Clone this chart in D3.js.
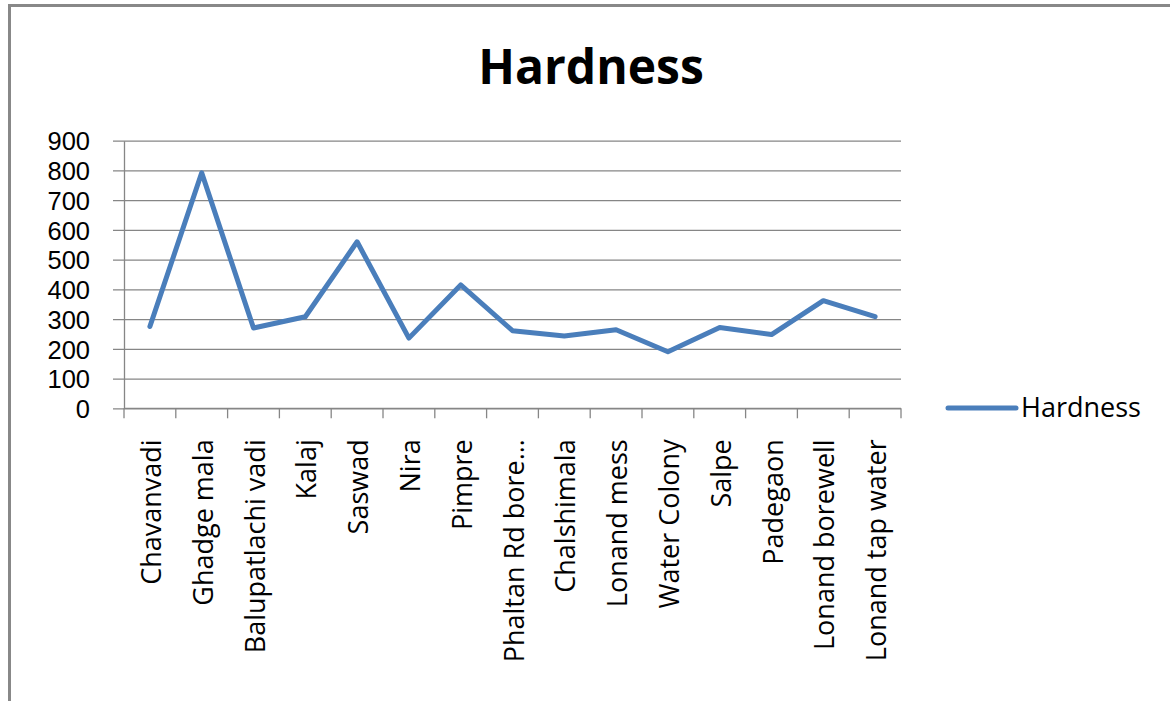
<!DOCTYPE html>
<html>
<head>
<meta charset="utf-8">
<script src="https://cdn.jsdelivr.net/npm/d3@7"></script>
<style>
  html, body { margin: 0; padding: 0; background: #fff; }
  svg { display: block; }
  text { font-family: "Open Sans", "Liberation Sans", sans-serif; fill: #000; }
</style>
</head>
<body>
<script>
// Sampling sites and total hardness (mg/L)
const sites = [
  "Chavanvadi", "Ghadge mala", "Balupatlachi vadi", "Kalaj", "Saswad",
  "Nira", "Pimpre", "Phaltan Rd bore…", "Chalshimala", "Lonand mess",
  "Water Colony", "Salpe", "Padegaon", "Lonand borewell", "Lonand tap water"
];
const hardness = [275, 792, 270, 308, 560, 236, 415, 261, 243, 264, 190, 272, 248, 362, 308];
const yTicks = [0, 100, 200, 300, 400, 500, 600, 700, 800, 900];
const seriesName = "Hardness";
const chartTitle = "Hardness";

const W = 1170, H = 701;
const plot = { left: 124, right: 901, top: 140.7, bottom: 408.3 };
const gridColor = "#868686";
const lineColor = "#4a7ebb";

const svg = d3.select("body").append("svg").attr("width", W).attr("height", H);

// chart frame
svg.append("rect")
  .attr("x", 9.5).attr("y", 5.5).attr("width", W + 20).attr("height", H + 20)
  .attr("fill", "none").attr("stroke", "#888").attr("stroke-width", 3);

const x = d3.scaleBand().domain(sites).range([plot.left, plot.right]);
const y = d3.scaleLinear().domain([0, 900]).range([plot.bottom, plot.top]);

// title
svg.append("text")
  .attr("x", 591).attr("y", 84)
  .attr("text-anchor", "middle")
  .style("font-size", "48px").style("font-weight", "bold")
  .text(chartTitle);

// horizontal gridlines + y axis
const yAxis = svg.append("g").attr("transform", `translate(${plot.left},0)`)
  .call(d3.axisLeft(y).tickValues(yTicks).tickSize(11).tickSizeOuter(0).tickPadding(23));
yAxis.select(".domain").attr("stroke", gridColor).attr("stroke-width", 1.3);
yAxis.selectAll(".tick line").attr("stroke", gridColor).attr("stroke-width", 1.3)
  .attr("x2", plot.right - plot.left).attr("x1", -11);
yAxis.selectAll(".tick text")
  .style("font-size", "25.5px").style("font-family", "'Liberation Sans', sans-serif")
  .attr("fill", "#000").attr("dy", "0.36em");

// x axis with category ticks on band boundaries
const xAxisG = svg.append("g").attr("transform", `translate(0,${plot.bottom})`);
xAxisG.append("line")
  .attr("x1", plot.left).attr("x2", plot.right)
  .attr("stroke", gridColor).attr("stroke-width", 1.3);
const bounds = sites.map(s => x(s)).concat([x(sites[sites.length - 1]) + x.bandwidth()]);
xAxisG.selectAll("line.tk").data(bounds).join("line")
  .attr("class", "tk")
  .attr("x1", d => d).attr("x2", d => d).attr("y1", 0).attr("y2", 10)
  .attr("stroke", gridColor).attr("stroke-width", 1.3);
xAxisG.selectAll("text.cat").data(sites).join("text")
  .attr("class", "cat")
  .attr("transform", d => `translate(${x(d) + x.bandwidth() / 2 + 11},31) rotate(-90)`)
  .attr("text-anchor", "end")
  .style("font-size", "27px")
  .text(d => d);

// series line
const line = d3.line()
  .x((d, i) => x(sites[i]) + x.bandwidth() / 2)
  .y(d => y(d));
svg.append("path")
  .datum(hardness)
  .attr("d", line)
  .attr("fill", "none")
  .attr("stroke", lineColor)
  .attr("stroke-width", 5)
  .attr("stroke-linejoin", "round")
  .attr("stroke-linecap", "round");

// legend
const lg = svg.append("g").attr("transform", "translate(948,408)");
lg.append("line").attr("x1", 0).attr("x2", 68).attr("y1", 0).attr("y2", 0)
  .attr("stroke", lineColor).attr("stroke-width", 5).attr("stroke-linecap", "round");
lg.append("text").attr("x", 73).attr("y", 0).attr("dy", "0.35em")
  .style("font-size", "27px").text(seriesName);
</script>
</body>
</html>
